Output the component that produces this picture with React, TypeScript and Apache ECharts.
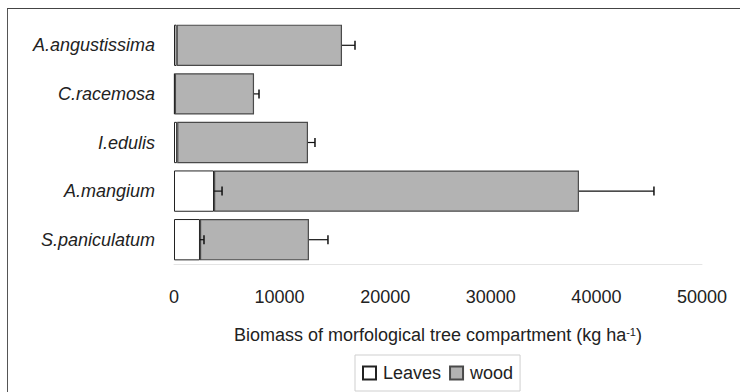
import React, { useEffect, useRef } from "react";
import * as echarts from "echarts";

// Tree species (top to bottom)
const species = ["A.angustissima", "C.racemosa", "I.edulis", "A.mangium", "S.paniculatum"];
// Biomass per compartment, kg ha-1
const leaves = [250, 80, 300, 3790, 2460];
const leavesErr = [0, 0, 0, 760, 380];
const wood = [15660, 7500, 12390, 34560, 10320];
const woodErr = [1230, 470, 660, 7100, 1800];
const xTicks = [0, 10000, 20000, 30000, 40000, 50000];

const FONT = "Liberation Sans, Arial, sans-serif";

export default function App() {
  const ref = useRef<HTMLDivElement>(null);

  useEffect(() => {
    if (!ref.current) return;
    const chart = echarts.init(ref.current, null, { renderer: "svg" });

    // Error bars: [category index, bar end, bar end + error]
    const errData: number[][] = [];
    species.forEach((_, i) => {
      if (leavesErr[i] > 0) errData.push([i, leaves[i], leaves[i] + leavesErr[i]]);
      const total = leaves[i] + wood[i];
      errData.push([i, total, total + woodErr[i]]);
    });

    chart.setOption({
      animation: false,
      textStyle: { fontFamily: FONT },
      graphic: [
        { type: "line", shape: { x1: 7, y1: 8.5, x2: 740, y2: 8.5 }, style: { stroke: "#444", lineWidth: 1 } },
        { type: "line", shape: { x1: 7.5, y1: 8.5, x2: 7.5, y2: 392 }, style: { stroke: "#555", lineWidth: 1 } },
      ],
      grid: { left: 174, right: 38, top: 21, bottom: 128 },
      legend: {
        left: 355,
        top: 355,
        width: 170,
        padding: [9, 7, 9, 7],
        itemGap: 8,
        itemWidth: 13,
        itemHeight: 13,
        borderColor: "#cfcfcf",
        borderWidth: 1,
        icon: "rect",
        textStyle: { fontSize: 18, color: "#222", fontFamily: FONT, padding: [0, 0, 0, 2] },
        data: ["Leaves", "wood"],
      },
      xAxis: {
        type: "value",
        min: 0,
        max: 50000,
        interval: 10000,
        splitLine: { show: false },
        axisTick: { show: false },
        axisLine: { show: true, lineStyle: { color: "#e4e4e4" } },
        axisLabel: {
          margin: 24,
          fontSize: 18,
          color: "#222",
          fontFamily: FONT,
          formatter: (v: number) => (xTicks.includes(v) ? String(v) : ""),
        },
        name: "Biomass of morfological tree compartment (kg ha{sup|-1})",
        nameLocation: "middle",
        nameGap: 62,
        nameTextStyle: {
          fontSize: 18,
          color: "#222",
          fontFamily: FONT,
          rich: { sup: { fontSize: 11, verticalAlign: "top", color: "#222", padding: [0, 0, 6, 0] } },
        },
      },
      yAxis: {
        type: "category",
        data: species,
        inverse: true,
        axisLine: { show: false },
        axisTick: { show: false },
        axisLabel: { margin: 19, fontSize: 18, fontStyle: "italic", color: "#222", fontFamily: FONT },
      },
      series: [
        {
          name: "Leaves",
          type: "bar",
          stack: "biomass",
          barCategoryGap: "15%",
          data: leaves,
          itemStyle: { color: "#ffffff", borderColor: "#222", borderWidth: 1 },
        },
        {
          name: "wood",
          type: "bar",
          stack: "biomass",
          barCategoryGap: "15%",
          data: wood,
          itemStyle: { color: "#b3b3b3", borderColor: "#4a4a4a", borderWidth: 1.2 },
        },
        {
          name: "errors",
          type: "custom",
          data: errData,
          encode: { x: [1, 2], y: 0 },
          z: 5,
          renderItem: (params: any, api: any) => {
            const cat = api.value(0);
            const a = api.coord([api.value(1), cat]);
            const b = api.coord([api.value(2), cat]);
            const cap = 4.5;
            return {
              type: "group",
              children: [
                { type: "line", shape: { x1: a[0], y1: a[1], x2: b[0], y2: b[1] }, style: { stroke: "#111", lineWidth: 1.2 } },
                { type: "line", shape: { x1: b[0], y1: b[1] - cap, x2: b[0], y2: b[1] + cap }, style: { stroke: "#111", lineWidth: 1.5 } },
              ],
            };
          },
        },
      ],
    });

    return () => chart.dispose();
  }, []);

  return <div ref={ref} style={{ width: 740, height: 392, position: "absolute", left: 0, top: 0, background: "#fff" }} />;
}
